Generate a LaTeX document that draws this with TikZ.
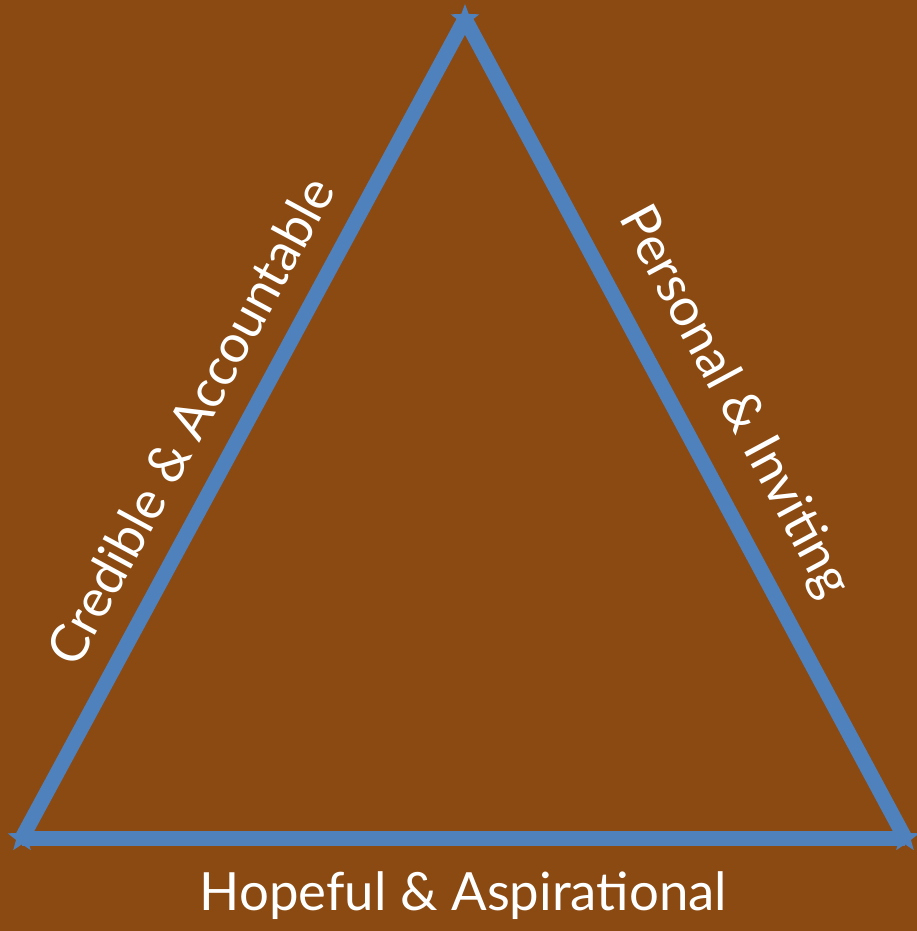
\documentclass[tikz,border=0pt]{standalone}
\usepackage{fontspec}
\setmainfont{Lato}
\usetikzlibrary{shapes.geometric}
\definecolor{bgbrown}{HTML}{8B4A12}
\definecolor{edgeblue}{HTML}{4F81BD}
\tikzset{
    corner/.style={star, star points=5, star point ratio=2.4, fill=edgeblue, inner sep=0pt, minimum size=0.3cm},
    edge/.style={line width=0.15cm, edgeblue},
    lbl/.style={text=white, font=\fontsize{15}{18}\selectfont}
}

\begin{document}
\begin{tikzpicture}
        \fill[bgbrown] (0,0) rectangle (9.17,9.31);
        \useasboundingbox (0,0) rectangle (9.17,9.31);

        \coordinate (top) at (4.65,9.12);
        \coordinate (left) at (0.22,0.93);
        \coordinate (right) at (9.05,0.93);

        \draw[edge] (left) -- (top) node [pos=0.48, above=0.12cm, sloped, lbl] (credible) {Credible \& Accountable};
        \draw[edge] (top) -- (right) node [pos=0.5, above=0.12cm, sloped, lbl] (personal) {Personal \& Inviting};
        \draw[edge] (left) -- (right) node [midway, below=0.14cm, lbl] (hopeful) {Hopeful \& Aspirational};

        \node[corner] at (top) (t) {};
        \node[corner] at (left) (l) {};
        \node[corner] at (right) (r) {};

    \end{tikzpicture}
\end{document}
